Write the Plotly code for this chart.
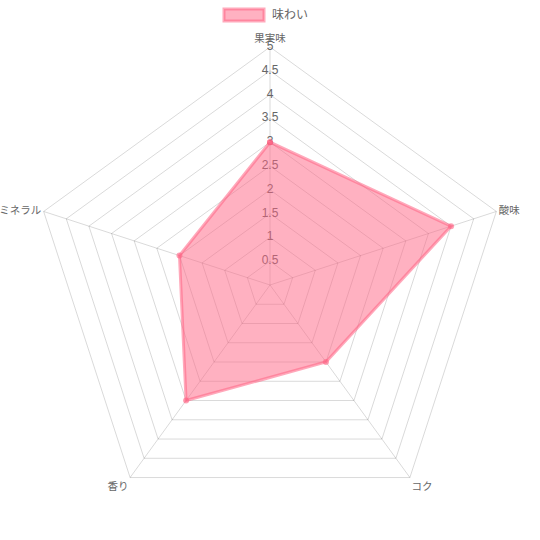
import plotly.graph_objects as go

categories = ["果実味", "酸味", "コク", "香り", "ミネラル"]
values = [3, 4, 2, 3, 2]
series_name = "味わい"
tick_values = [0.5, 1, 1.5, 2, 2.5, 3, 3.5, 4, 4.5, 5]
tick_labels = ["0.5", "1", "1.5", "2", "2.5", "3", "3.5", "4", "4.5", "5"]

FONT = "Liberation Sans, Noto Sans CJK JP, sans-serif"
FILL = "rgba(255,99,132,0.5)"
LINE = "rgba(255,99,132,0.55)"

W, H = 540, 540
L, R, T, B = 32, 32, 47, 17
PW, PH = W - L - R, H - T - B


def px_x(x):
    return (x - L) / PW


def px_y(y):
    return (H - B - y) / PH


fig = go.Figure()

# radial tick labels, centred on the top spoke (drawn below the dataset)
fig.add_trace(go.Scatterpolar(
    r=tick_values,
    theta=[categories[0]] * len(tick_values),
    mode="text",
    text=tick_labels,
    textposition="middle center",
    textfont=dict(size=12, color="#666666", family=FONT),
    showlegend=False,
    hoverinfo="skip",
))

fig.add_trace(go.Scatterpolar(
    r=values + [values[0]],
    theta=categories + [categories[0]],
    name=series_name,
    mode="lines+markers",
    fill="toself",
    fillcolor=FILL,
    line=dict(color=LINE, width=3),
    marker=dict(size=6, color="rgba(255,99,132,0.6)"),
    showlegend=False,
))

# legend box (Chart.js style)
fig.add_shape(
    type="rect", xref="paper", yref="paper",
    x0=px_x(224), x1=px_x(264), y0=px_y(21), y1=px_y(9),
    fillcolor=FILL, line=dict(color=LINE, width=3),
)
fig.add_annotation(
    xref="paper", yref="paper", x=px_x(270), y=px_y(15),
    xanchor="left", yanchor="middle", showarrow=False,
    text=series_name, font=dict(size=12, color="#666666", family=FONT),
)

fig.update_layout(
    width=W, height=H,
    margin=dict(l=L, r=R, t=T, b=B),
    paper_bgcolor="white",
    plot_bgcolor="white",
    font=dict(family=FONT, size=11, color="#666666"),
    showlegend=False,
    polar=dict(
        bgcolor="white",
        gridshape="linear",
        radialaxis=dict(
            range=[0, 5],
            tickvals=tick_values,
            showticklabels=False,
            ticks="",
            showline=False,
            gridcolor="rgba(0,0,0,0.15)",
            gridwidth=1,
        ),
        angularaxis=dict(
            rotation=90,
            direction="clockwise",
            gridcolor="rgba(0,0,0,0.15)",
            linecolor="rgba(0,0,0,0.15)",
            showline=True,
            ticks="",
            tickfont=dict(size=10.5, color="#666666", family=FONT),
        ),
    ),
)

fig.write_html("out.html")
